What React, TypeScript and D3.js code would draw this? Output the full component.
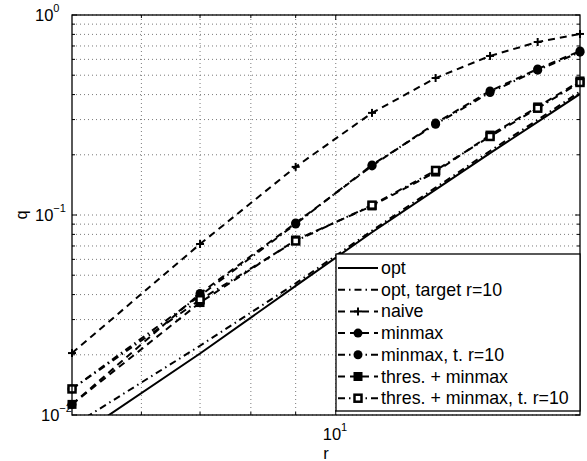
import React from "react";
import * as d3 from "d3";

// r values (odd design sizes)
const rValues = [5, 7, 9, 11, 13, 15, 17, 19];

// q for each method
const optQ = [0.0075, 0.0203, 0.0442, 0.082, 0.134, 0.204, 0.292, 0.403];
const optTargetQ = [0.0088, 0.0222, 0.0455, 0.0835, 0.137, 0.209, 0.299, 0.414];
const naiveQ = [0.0204, 0.0716, 0.174, 0.324, 0.484, 0.624, 0.733, 0.804];
const minmaxQ = [0.0113, 0.0405, 0.0912, 0.176, 0.288, 0.417, 0.537, 0.661];
const minmaxTQ = [0.0135, 0.0395, 0.0902, 0.178, 0.284, 0.41, 0.53, 0.652];
const thresQ = [0.0113, 0.0365, 0.075, 0.111, 0.164, 0.251, 0.347, 0.468];
const thresTQ = [0.0135, 0.0377, 0.0742, 0.112, 0.167, 0.247, 0.342, 0.46];

const legendLabels = [
  "opt",
  "opt, target r=10",
  "naive",
  "minmax",
  "minmax, t. r=10",
  "thres. + minmax",
  "thres. + minmax, t. r=10",
];

const xGridTicks = [6, 7, 8, 9, 10];

type Marker = "none" | "plus" | "dot" | "square" | "hollow";

interface Series {
  label: string;
  q: number[];
  dash: string | null;
  marker: Marker;
}

const DASH = "7 5";
const DASHDOT = "7 4 1.5 4";

const series: Series[] = [
  { label: legendLabels[0], q: optQ, dash: null, marker: "none" },
  { label: legendLabels[1], q: optTargetQ, dash: DASHDOT, marker: "none" },
  { label: legendLabels[2], q: naiveQ, dash: DASH, marker: "plus" },
  { label: legendLabels[3], q: minmaxQ, dash: DASH, marker: "dot" },
  { label: legendLabels[4], q: minmaxTQ, dash: DASHDOT, marker: "dot" },
  { label: legendLabels[5], q: thresQ, dash: DASH, marker: "square" },
  { label: legendLabels[6], q: thresTQ, dash: DASHDOT, marker: "hollow" },
];

const W = 587;
const H = 461;
const left = 72;
const right = 580;
const top = 15;
const bottom = 415;
const FONT = "'Liberation Sans', Arial, Helvetica, sans-serif";

const MarkerGlyph: React.FC<{ kind: Marker; x: number; y: number }> = ({ kind, x, y }) => {
  if (kind === "plus")
    return (
      <g stroke="#000" strokeWidth={2}>
        <line x1={x - 4} x2={x + 4} y1={y} y2={y} />
        <line x1={x} x2={x} y1={y - 4} y2={y + 4} />
      </g>
    );
  if (kind === "dot") return <circle cx={x} cy={y} r={4.5} fill="#000" />;
  if (kind === "square")
    return <rect x={x - 4.5} y={y - 4.5} width={9} height={9} fill="#000" />;
  if (kind === "hollow")
    return (
      <rect x={x - 3.5} y={y - 3.5} width={7} height={7} fill="#fff" stroke="#000" strokeWidth={2.5} />
    );
  return null;
};

export default function App() {
  const x = d3.scaleLog().domain([5, 19]).range([left, right]);
  const y = d3.scaleLog().domain([0.01, 1]).range([bottom, top]);

  const yGrid: number[] = [];
  for (const dec of [0.01, 0.1]) for (let k = 1; k <= 9; k++) yGrid.push(dec * k);
  yGrid.push(1);

  const line = d3
    .line<[number, number]>()
    .x((d) => x(d[0]))
    .y((d) => y(d[1]));

  const legX = 336;
  const legY = 254;
  const legW = 244;
  const legH = 157;
  const rowH = 21.7;

  return (
    <svg
      width={W}
      height={H}
      style={{ position: "absolute", left: 0, top: 0, background: "#fff" }}
      fontFamily={FONT}
    >
      <defs>
        <clipPath id="plotclip">
          <rect x={left} y={top} width={right - left} height={bottom - top} />
        </clipPath>
      </defs>
      <rect x={0} y={0} width={W} height={H} fill="#fff" />

      {/* grid */}
      <g stroke="#7a7a7a" strokeWidth={1} strokeDasharray="1 3">
        {xGridTicks.map((t) => (
          <line key={"gx" + t} x1={x(t)} x2={x(t)} y1={top} y2={bottom} />
        ))}
        {yGrid.map((t, i) => (
          <line key={"gy" + i} x1={left} x2={right} y1={y(t)} y2={y(t)} />
        ))}
      </g>

      {/* ticks */}
      <g stroke="#000" strokeWidth={1}>
        {yGrid.map((t, i) => {
          const major = Math.abs(Math.log10(t) - Math.round(Math.log10(t))) < 1e-9;
          const len = major ? 5 : 3;
          return (
            <g key={"ty" + i}>
              <line x1={left} x2={left + len} y1={y(t)} y2={y(t)} />
              <line x1={right} x2={right - len} y1={y(t)} y2={y(t)} />
            </g>
          );
        })}
        {xGridTicks.map((t) => {
          const len = t === 10 ? 5 : 3;
          return (
            <g key={"tx" + t}>
              <line x1={x(t)} x2={x(t)} y1={bottom} y2={bottom - len} />
              <line x1={x(t)} x2={x(t)} y1={top} y2={top + len} />
            </g>
          );
        })}
      </g>

      {/* data */}
      <g clipPath="url(#plotclip)">
        {series.map((s, i) => (
          <path
            key={"l" + i}
            d={line(rValues.map((r, j) => [r, s.q[j]] as [number, number])) || ""}
            fill="none"
            stroke="#000"
            strokeWidth={2}
            strokeDasharray={s.dash || undefined}
          />
        ))}
      </g>
      {series.map((s, i) => (
        <g key={"m" + i}>
          {rValues.map((r, j) => (
            <MarkerGlyph key={j} kind={s.marker} x={x(r)} y={y(s.q[j])} />
          ))}
        </g>
      ))}

      {/* axes box */}
      <rect
        x={left}
        y={top}
        width={right - left}
        height={bottom - top}
        fill="none"
        stroke="#000"
        strokeWidth={1.3}
      />

      {/* tick labels */}
      <g fontSize={16.5} fill="#000">
        <text x={35} y={y(1) + 6}>
          10
          <tspan fontSize={11} dy={-9}>0</tspan>
        </text>
        <text x={35} y={y(0.1) + 6}>
          10
          <tspan fontSize={11} dy={-9}>−1</tspan>
        </text>
        <text x={41} y={y(0.01) + 6}>
          10
          <tspan fontSize={11} dy={-9}>−2</tspan>
        </text>
        <text x={x(10) - 13} y={440}>
          10
          <tspan fontSize={11} dy={-9}>1</tspan>
        </text>
        <text x={(left + right) / 2} y={459} textAnchor="middle">
          r
        </text>
        <text transform={`translate(27,${(top + bottom) / 2}) rotate(-90)`} textAnchor="middle">
          q
        </text>
      </g>

      {/* legend */}
      <rect x={legX} y={legY} width={legW} height={legH} fill="#fff" stroke="#000" strokeWidth={1.3} />
      {series.map((s, i) => {
        const cy = legY + 14 + i * rowH;
        return (
          <g key={"lg" + i}>
            <line
              x1={legX + 2}
              x2={legX + 42}
              y1={cy}
              y2={cy}
              stroke="#000"
              strokeWidth={2}
              strokeDasharray={s.dash || undefined}
            />
            <MarkerGlyph kind={s.marker} x={legX + 22} y={cy} />
            <text x={legX + 45} y={cy + 6} fontSize={17.8} fill="#000">
              {s.label}
            </text>
          </g>
        );
      })}
    </svg>
  );
}
